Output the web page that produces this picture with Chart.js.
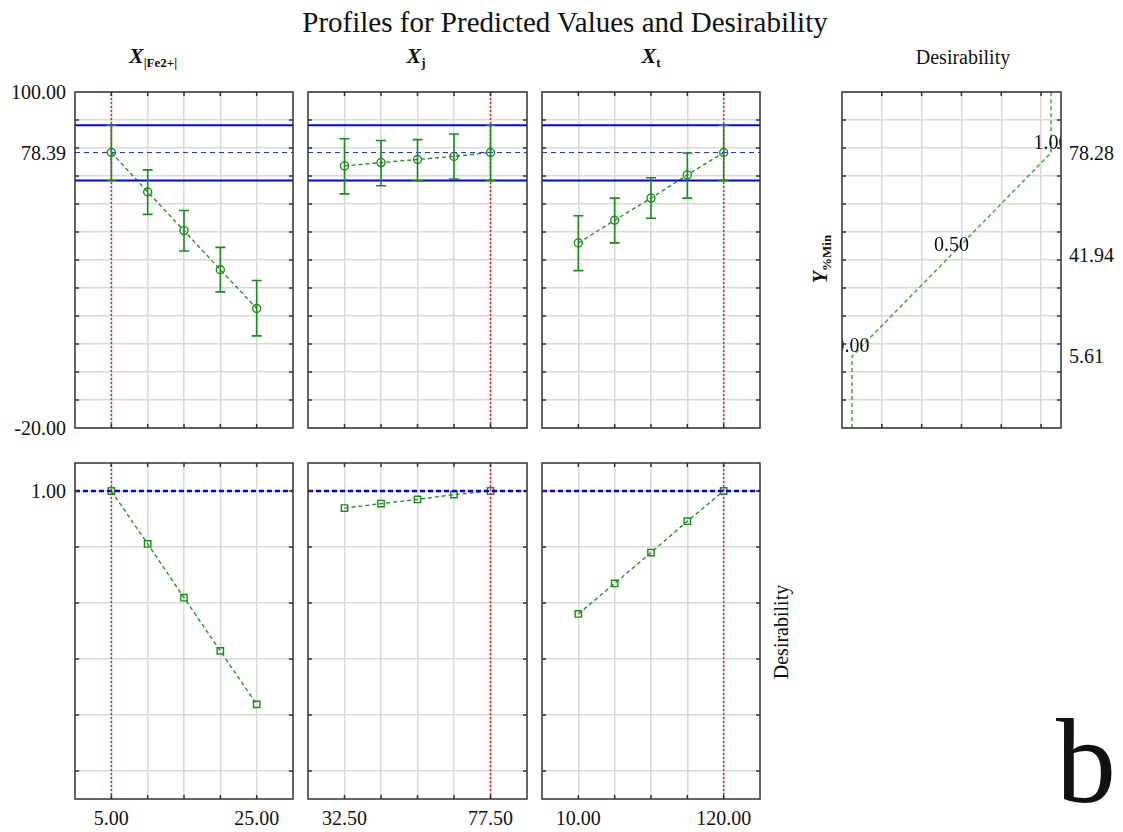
<!DOCTYPE html>
<html>
<head>
<meta charset="utf-8">
<script src="https://cdn.jsdelivr.net/npm/chart.js@4.4.1/dist/chart.umd.min.js"></script>
<style>
  body { margin: 0; background: #fff; }
  #wrap { position: relative; width: 1123px; height: 832px; font-family: 'Liberation Serif', 'Times New Roman', serif; color: #111; overflow: hidden; }
  #wrap canvas { position: absolute; }
  .lbl { position: absolute; white-space: nowrap; font-size: 20px; line-height: 1; }
  .ttl { font-size: 29px; }
  .hdr { font-size: 22px; font-weight: bold; font-style: italic; }
  .hdr sub, .rot sub { font-size: 13px; font-style: normal; font-weight: bold; vertical-align: -4px; }
  .big { font-size: 120px; }
</style>
</head>
<body>
<div id="wrap">
  <canvas id="pFe" width="220" height="338" style="left:74px;top:91px"></canvas>
  <canvas id="pJ" width="221" height="338" style="left:307px;top:91px"></canvas>
  <canvas id="pT" width="220" height="338" style="left:541px;top:91px"></canvas>
  <canvas id="pD" width="221" height="338" style="left:841px;top:91px"></canvas>
  <canvas id="dFe" width="220" height="338" style="left:74px;top:462px"></canvas>
  <canvas id="dJ" width="221" height="338" style="left:307px;top:462px"></canvas>
  <canvas id="dT" width="220" height="338" style="left:541px;top:462px"></canvas>
</div>
<script>
// factor levels
const feLevels = [5, 10, 15, 20, 25];
const jLevels = [32.5, 43.75, 55, 66.25, 77.5];
const tLevels = [10, 37.5, 65, 92.5, 120];

// predicted yield with confidence limits
const feYield = [78.39, 64.3, 50.5, 36.5, 22.7];
const feLow = [68.4, 56.3, 43.2, 28.6, 12.9];
const feHigh = [88.1, 72.2, 57.7, 44.5, 32.7];

const jYield = [73.6, 74.8, 75.9, 77.0, 78.39];
const jLow = [63.6, 66.5, 68.3, 68.9, 68.4];
const jHigh = [83.3, 82.7, 83.0, 85.0, 88.1];

const tYield = [46.1, 54.2, 62.1, 70.4, 78.39];
const tLow = [36.2, 46.1, 54.9, 62.1, 68.4];
const tHigh = [55.8, 62.1, 69.4, 78.2, 88.1];

// desirability per level
const feDesir = [1.0, 0.811, 0.619, 0.429, 0.238];
const jDesir = [0.939, 0.955, 0.970, 0.987, 1.0];
const tDesir = [0.561, 0.670, 0.780, 0.892, 1.0];

// optimum and its interval
const predicted = 78.39;
const ciLow = 68.4;
const ciHigh = 88.1;
const currentFe = 5, currentJ = 77.5, currentT = 120;

// desirability function of the response
const desirLevels = [0, 0.5, 1];
const desirResponse = [5.61, 41.94, 78.28];
const desirPointLabels = ['0.00', '0.50', '1.00'];

// axis ranges and grid ticks
const yRange = [-20, 100];
const yGrid = [-20, -10, 0, 10, 20, 30, 40, 50, 60, 70, 80, 90, 100];
const dRange = [-0.1, 1.1];
const dGrid = [0, 0.2, 0.4, 0.6, 0.8, 1.0];
const feRange = [0, 30];
const feGrid = [5, 10, 15, 20, 25];
const jRange = [21.25, 88.75];
const jGrid = [32.5, 43.75, 55, 66.25, 77.5];
const tRange = [-17.5, 147.5];
const tGrid = [10, 37.5, 65, 92.5, 120];
const desRange = [-0.05, 1.05];
const desGrid = [0.15, 0.35, 0.55, 0.75, 0.95];

// tick labels
const yTickValues = [100, 78.39, -20];
const yTickLabels = ['100.00', '78.39', '-20.00'];
const dTickValues = [1];
const dTickLabels = ['1.00'];
const feTickValues = [5, 25], feTickLabels = ['5.00', '25.00'];
const jTickValues = [32.5, 77.5], jTickLabels = ['32.50', '77.50'];
const tTickValues = [10, 120], tTickLabels = ['10.00', '120.00'];
const desRightValues = [78.28, 41.94, 5.61];
const desRightLabels = ['78.28', '41.94', '5.61'];

const GREEN = '#1c8c1c';
const wrap = document.getElementById('wrap');

// box, inward ticks
const frame = {
  id: 'frame',
  afterDraw(chart) {
    const { ctx, chartArea: a, scales } = chart;
    ctx.save();
    ctx.strokeStyle = '#333';
    ctx.lineWidth = 1.5;
    ctx.beginPath();
    scales.x.ticks.forEach(t => {
      const px = scales.x.getPixelForValue(t.value);
      if (px <= a.left + 1 || px >= a.right - 1) return;
      ctx.moveTo(px, a.top); ctx.lineTo(px, a.top + 4);
      ctx.moveTo(px, a.bottom); ctx.lineTo(px, a.bottom - 4);
    });
    scales.y.ticks.forEach(t => {
      const py = scales.y.getPixelForValue(t.value);
      if (py <= a.top + 1 || py >= a.bottom - 1) return;
      ctx.moveTo(a.left, py); ctx.lineTo(a.left + 4, py);
      ctx.moveTo(a.right, py); ctx.lineTo(a.right - 4, py);
    });
    ctx.stroke();
    ctx.strokeRect(a.left, a.top, a.width, a.height);
    ctx.restore();
  }
};

// vertical error bars with caps
const errorBars = {
  id: 'errorBars',
  afterDatasetsDraw(chart, args, opts) {
    if (!opts.low) return;
    const { ctx, scales: { x, y } } = chart;
    ctx.save();
    ctx.strokeStyle = GREEN;
    ctx.lineWidth = 1.6;
    opts.xs.forEach((v, i) => {
      const px = x.getPixelForValue(v);
      const lo = y.getPixelForValue(opts.low[i]);
      const hi = y.getPixelForValue(opts.high[i]);
      ctx.beginPath();
      ctx.moveTo(px, lo); ctx.lineTo(px, hi);
      ctx.moveTo(px - 5, lo); ctx.lineTo(px + 5, lo);
      ctx.moveTo(px - 5, hi); ctx.lineTo(px + 5, hi);
      ctx.stroke();
    });
    ctx.restore();
  }
};

// text at the desirability points, clipped to the plot
const pointText = {
  id: 'pointText',
  afterDatasetsDraw(chart, args, opts) {
    if (!opts.labels) return;
    const { ctx, chartArea: a, scales: { x, y } } = chart;
    ctx.save();
    ctx.beginPath();
    ctx.rect(a.left, a.top, a.width, a.height);
    ctx.clip();
    ctx.font = "20px 'Liberation Serif'";
    ctx.fillStyle = '#111';
    ctx.textAlign = 'center';
    ctx.textBaseline = 'alphabetic';
    opts.labels.forEach((t, i) => {
      ctx.fillText(t, x.getPixelForValue(opts.xs[i]), y.getPixelForValue(opts.ys[i]) - 4);
    });
    ctx.restore();
  }
};

function hLine(xr, v, color, width, dash) {
  return {
    data: [{ x: xr[0], y: v }, { x: xr[1], y: v }],
    borderColor: color, borderWidth: width, borderDash: dash || [],
    pointRadius: 0
  };
}

function vLine(yr, v) {
  return {
    data: [{ x: v, y: yr[0] }, { x: v, y: yr[1] }],
    borderColor: '#ff1a1a', borderWidth: 1.5, borderDash: [2, 2],
    pointRadius: 0
  };
}

function profile(xs, ys, style) {
  return {
    data: xs.map((v, i) => ({ x: v, y: ys[i] })),
    borderColor: GREEN, borderWidth: 1.3, borderDash: [4, 3],
    pointStyle: style, pointRadius: style === 'rect' ? 4.5 : 4,
    pointBorderColor: GREEN, pointBorderWidth: 1.4,
    pointBackgroundColor: 'rgba(0,0,0,0)', clip: 8
  };
}

function axis(range, grid) {
  return {
    type: 'linear', min: range[0], max: range[1],
    afterBuildTicks: s => { s.ticks = grid.map(v => ({ value: v })); },
    afterFit: s => { if (s.isHorizontal()) s.height = 0; else s.width = 0; },
    ticks: { display: false },
    border: { display: false },
    grid: { drawTicks: false, color: '#d9d9d9', lineWidth: 1.5 }
  };
}

function panel(id, xr, xg, yr, yg, datasets, pluginOpts) {
  return new Chart(document.getElementById(id), {
    type: 'line',
    data: { datasets },
    options: {
      responsive: false, animation: false,
      layout: { padding: 1, autoPadding: false },
      plugins: Object.assign({ legend: { display: false }, tooltip: { enabled: false } }, pluginOpts || {}),
      scales: { x: axis(xr, xg), y: axis(yr, yg) }
    },
    plugins: [frame, errorBars, pointText]
  });
}

function topPanel(id, xr, xg, xs, ys, lo, hi, current) {
  return panel(id, xr, xg, yRange, yGrid, [
    vLine(yRange, current),
    hLine(xr, ciHigh, '#0000ff', 2),
    hLine(xr, ciLow, '#0000ff', 2),
    hLine(xr, predicted, '#2030ff', 1, [5, 4]),
    profile(xs, ys, 'circle')
  ], { errorBars: { xs, low: lo, high: hi } });
}

function bottomPanel(id, xr, xg, xs, ys, current) {
  return panel(id, xr, xg, dRange, dGrid, [
    vLine(dRange, current),
    hLine(xr, 1, '#0000ff', 2.5, [5, 3]),
    profile(xs, ys, 'rect')
  ]);
}

const cFe = topPanel('pFe', feRange, feGrid, feLevels, feYield, feLow, feHigh, currentFe);
const cJ = topPanel('pJ', jRange, jGrid, jLevels, jYield, jLow, jHigh, currentJ);
const cT = topPanel('pT', tRange, tGrid, tLevels, tYield, tLow, tHigh, currentT);

const desirLine = [{ x: desirLevels[0], y: yRange[0] }]
  .concat(desirLevels.map((v, i) => ({ x: v, y: desirResponse[i] })))
  .concat([{ x: desirLevels[2], y: yRange[1] }]);
const cD = panel('pD', desRange, desGrid, yRange, yGrid, [{
  data: desirLine,
  borderColor: '#43a843', borderWidth: 1.5, borderDash: [4, 3], pointRadius: 0
}], { pointText: { labels: desirPointLabels, xs: desirLevels, ys: desirResponse } });

const bFe = bottomPanel('dFe', feRange, feGrid, feLevels, feDesir, currentFe);
const bJ = bottomPanel('dJ', jRange, jGrid, jLevels, jDesir, currentJ);
const bT = bottomPanel('dT', tRange, tGrid, tLevels, tDesir, currentT);

// text helpers
function label(html, x, y, ax, ay, cls, rot) {
  const d = document.createElement('div');
  d.className = 'lbl ' + (cls || '');
  d.innerHTML = html;
  d.style.left = x + 'px';
  d.style.top = y + 'px';
  d.style.transform = `translate(${ax}%, ${ay}%)` + (rot ? ` rotate(${rot}deg)` : '');
  wrap.appendChild(d);
}
function yLabels(chart, values, texts, x, right) {
  const top = chart.canvas.offsetTop;
  values.forEach((v, i) => label(texts[i], x, top + chart.scales.y.getPixelForValue(v), right ? 0 : -100, -50));
}
function xLabels(chart, values, texts, y) {
  const left = chart.canvas.offsetLeft;
  values.forEach((v, i) => label(texts[i], left + chart.scales.x.getPixelForValue(v), y, -50, -50));
}

yLabels(cFe, yTickValues, yTickLabels, 66);
yLabels(bFe, dTickValues, dTickLabels, 66);
yLabels(cD, desRightValues, desRightLabels, 1069, true);
xLabels(bFe, feTickValues, feTickLabels, 818);
xLabels(bJ, jTickValues, jTickLabels, 818);
xLabels(bT, tTickValues, tTickLabels, 818);

label('Profiles for Predicted Values and Desirability', 565, 22, -50, -50, 'ttl');
label('X<sub>|Fe2+|</sub>', 153, 57, -50, -50, 'hdr');
label('X<sub>j</sub>', 416, 57, -50, -50, 'hdr');
label('X<sub>t</sub>', 651, 57, -50, -50, 'hdr');
label('Desirability', 963, 57, -50, -50);
label('<b><i>Y</i><sub>%Min</sub></b>', 821, 259, -50, -50, 'rot', -90);
label('Desirability', 781, 632, -50, -50, '', -90);
label('b', 1086, 762, -50, -50, 'big');
</script>
</body>
</html>
